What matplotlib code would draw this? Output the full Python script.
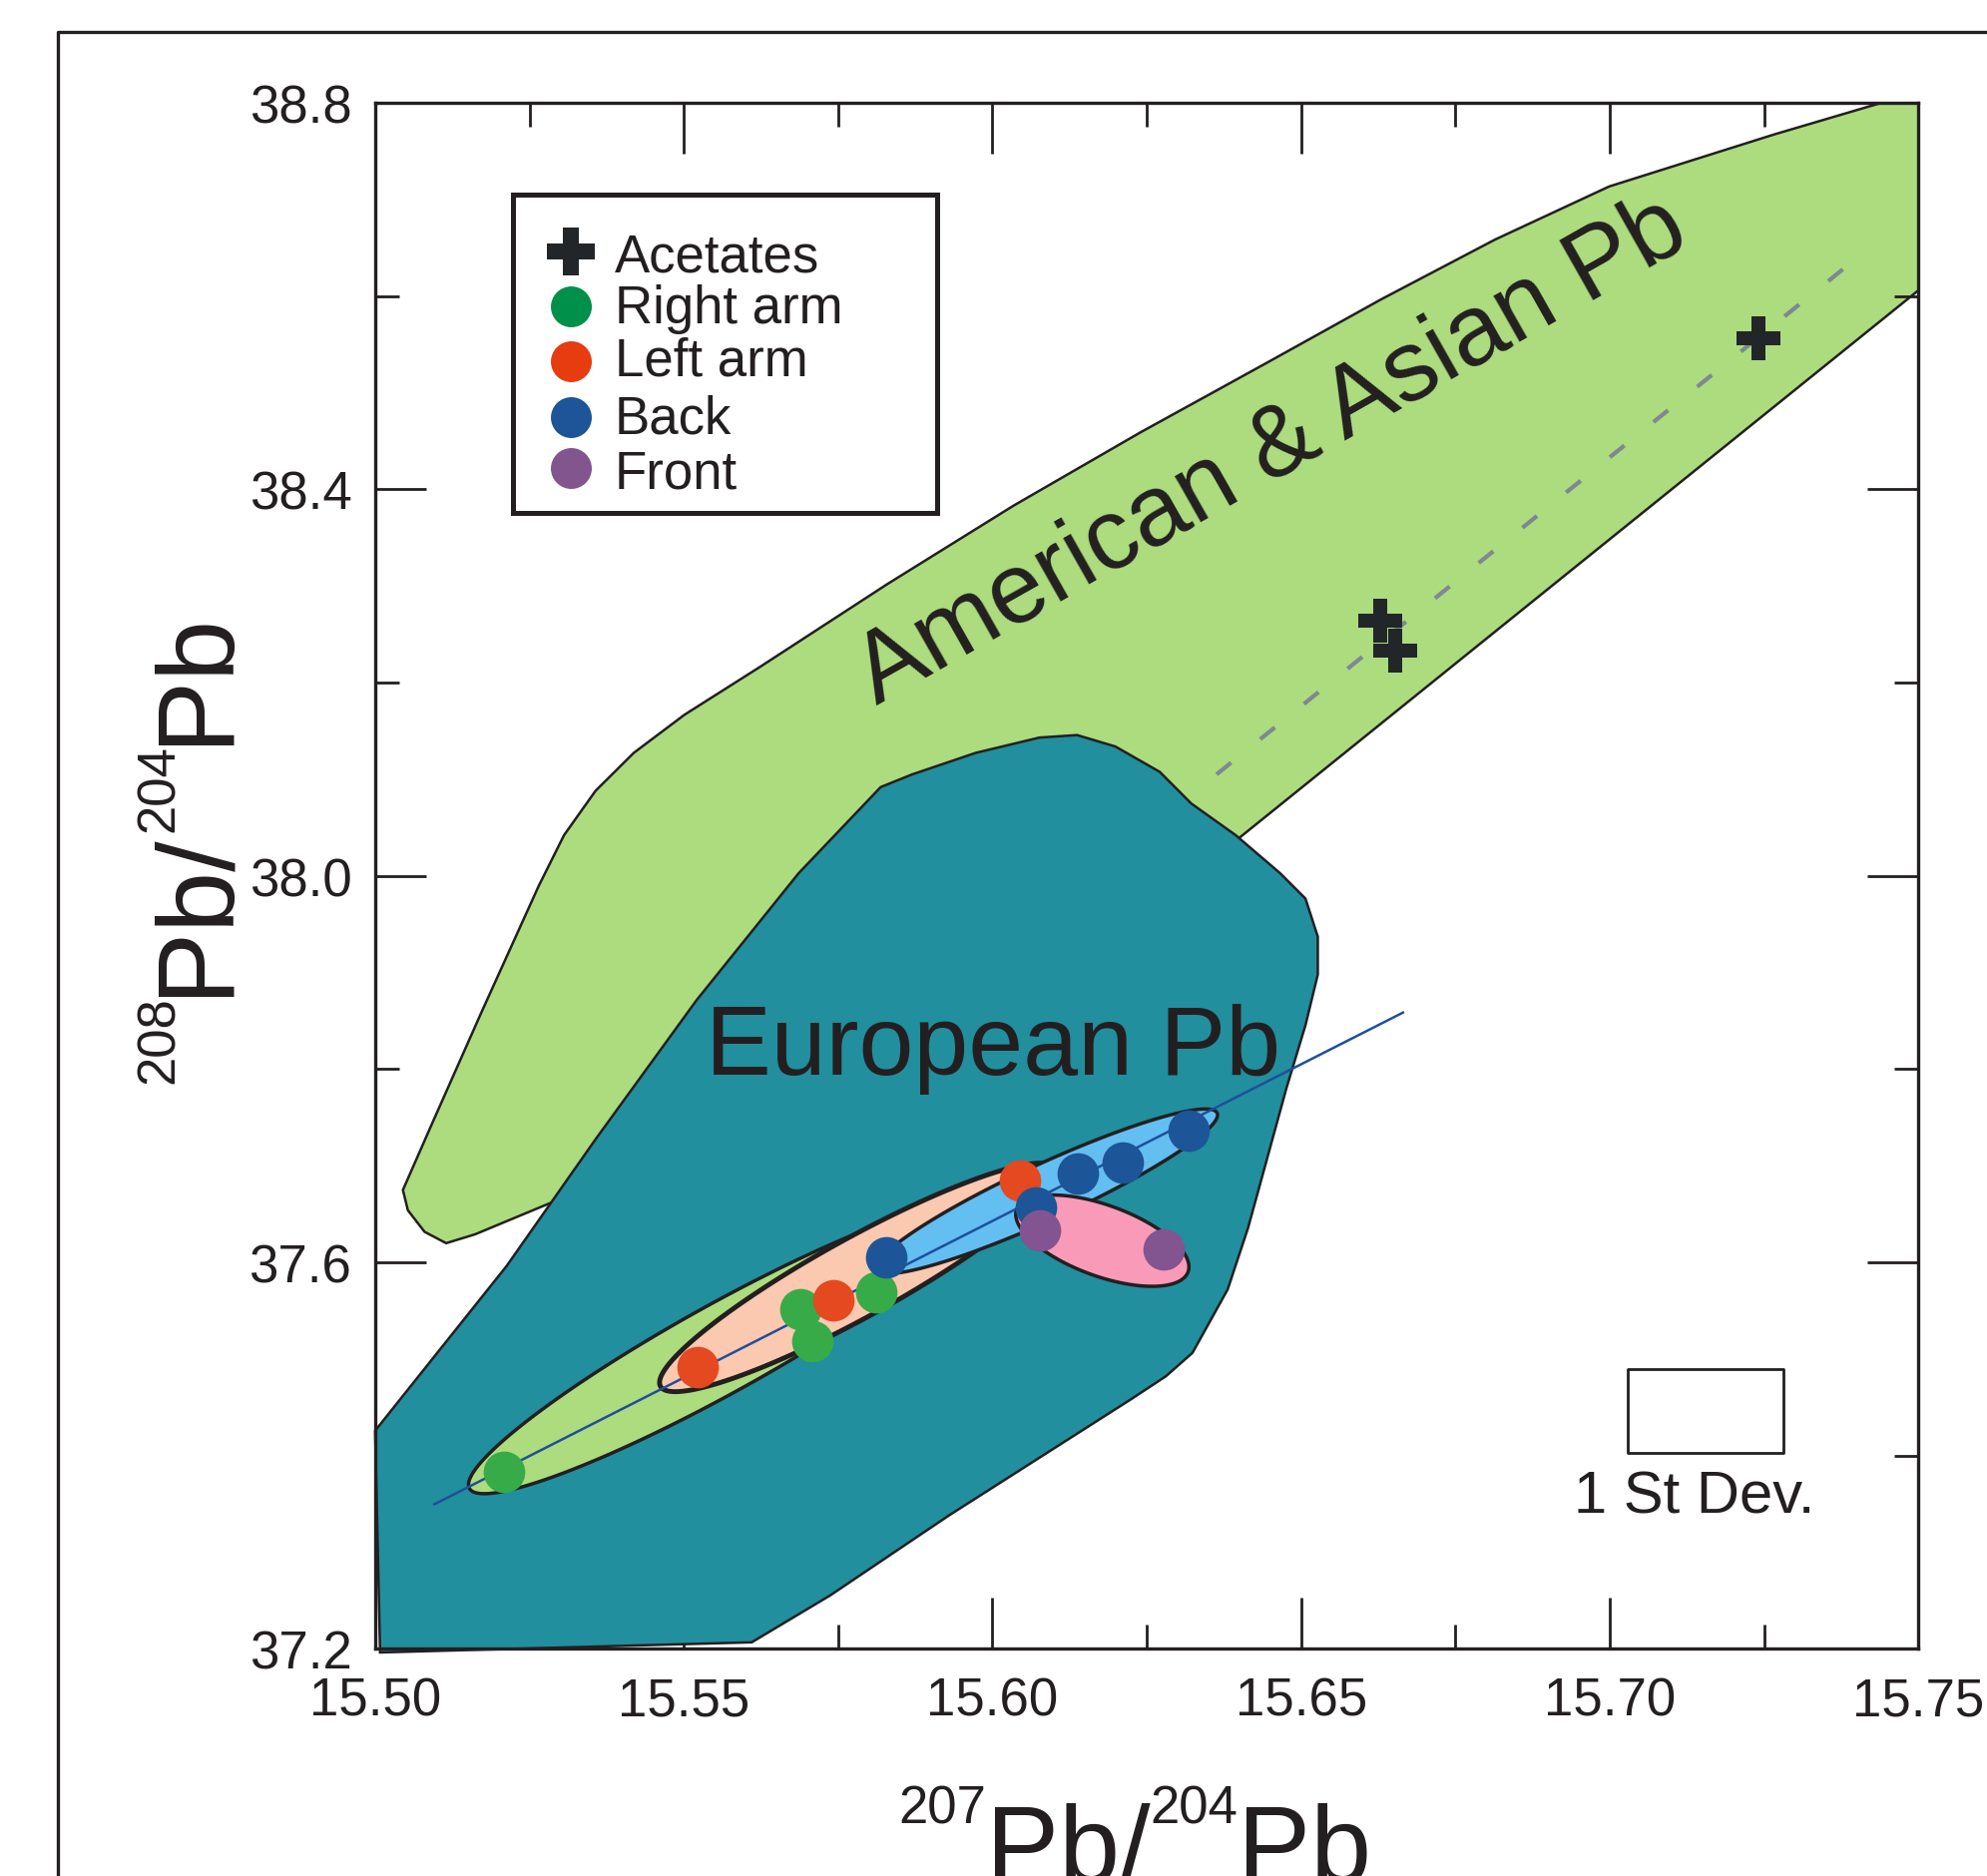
import numpy as np
import matplotlib.pyplot as plt
from matplotlib.lines import Line2D
from matplotlib.patches import Polygon, Rectangle
from matplotlib.ticker import MultipleLocator, FormatStrFormatter

plt.rcParams['font.family'] = ['Liberation Sans', 'DejaVu Sans']

INK = '#231f20'

# measured Pb isotope ratios (x = 207Pb/204Pb, y = 208Pb/204Pb)
acetate_x = [15.6628, 15.6652, 15.7241]
acetate_y = [38.2636, 38.2334, 38.5567]
right_arm_x = [15.5209, 15.5689, 15.5708, 15.5811]
right_arm_y = [37.3835, 37.5511, 37.5184, 37.5690]
left_arm_x = [15.5522, 15.5743, 15.6044]
left_arm_y = [37.4915, 37.5608, 37.6847]
back_x = [15.5828, 15.6071, 15.6139, 15.6211, 15.6318]
back_y = [37.6051, 37.6570, 37.6922, 37.7032, 37.7363]
front_x = [15.6077, 15.6277]
front_y = [37.6330, 37.6131]

# American & Asian lead field
asian_x = [15.7553, 15.7440, 15.7266, 15.6999, 15.6814, 15.6630, 15.6445, 15.6240,
           15.6034, 15.5829, 15.5624, 15.5501, 15.5419, 15.5357, 15.5306, 15.5265,
           15.5172, 15.5090, 15.5045, 15.5053, 15.5080, 15.5115, 15.5162, 15.5285,
           15.5624, 15.6240, 15.6400, 15.7500, 15.7553]
asian_y = [38.8223, 38.8000, 38.7672, 38.7134, 38.6584, 38.5967, 38.5311, 38.4590,
           38.3830, 38.3016, 38.2164, 38.1666, 38.1272, 38.0879, 38.0420, 37.9895,
           37.8584, 37.7403, 37.6748, 37.6538, 37.6315, 37.6197, 37.6289, 37.6616,
           37.8584, 38.0420, 38.0393, 38.6059, 38.6348]

# European lead field
euro_x = [15.5000, 15.5090, 15.5213, 15.5357, 15.5521, 15.5686, 15.5819, 15.5870,
          15.5973, 15.6076, 15.6137, 15.6199, 15.6271, 15.6322, 15.6394, 15.6466,
          15.6507, 15.6527, 15.6527, 15.6507, 15.6476, 15.6445, 15.6414, 15.6381,
          15.6324, 15.6281, 15.6225, 15.5929, 15.5737, 15.5610, 15.5008]
euro_y = [37.4256, 37.4977, 37.5961, 37.7272, 37.8715, 38.0026, 38.0918, 38.1049,
          38.1272, 38.1430, 38.1456, 38.1338, 38.1075, 38.0748, 38.0420, 38.0026,
          37.9764, 37.9370, 37.8977, 37.8452, 37.7797, 37.7075, 37.6354, 37.5718,
          37.5062, 37.4820, 37.4584, 37.3377, 37.2551, 37.2066, 37.1961]

# acetate trend and sample regression line
trend_x = [15.6363, 15.7399]
trend_y = [38.1049, 38.6387]
fit_x = [15.5096, 15.6665]
fit_y = [37.3495, 37.8584]

# 1 sd ellipses per group: centre and two conjugate half-axis vectors
ell_cx = [15.5562, 15.5782, 15.6088, 15.6178]
ell_cy = [37.5108, 37.5843, 37.6734, 37.6223]
ell_ux = [0.04093, 0.03198, 0.02760, 0.013888]
ell_uy = [0.14492, 0.11279, 0.08105, -0.03229]
ell_vx = [0.003480, 0.003075, 0.001887, -0.001966]
ell_vy = [-0.04011, -0.03559, -0.02622, -0.03451]

# size of one standard deviation
sd_x0, sd_y0 = 15.7029, 37.4030
sd_w, sd_h = 0.0253, 0.0861

W, H = 1991, 1881
fig = plt.figure(figsize=(W / 100, H / 100), dpi=100)
ax = fig.add_axes([0.1888, 0.1211, 0.7767, 0.8236])
ax.set_xlim(15.50, 15.75)
ax.set_ylim(37.2, 38.8)

ax.xaxis.set_major_locator(MultipleLocator(0.05))
ax.xaxis.set_minor_locator(MultipleLocator(0.025))
ax.yaxis.set_major_locator(MultipleLocator(0.4))
ax.yaxis.set_minor_locator(MultipleLocator(0.2))
ax.xaxis.set_major_formatter(FormatStrFormatter('%.2f'))
ax.yaxis.set_major_formatter(FormatStrFormatter('%.1f'))
ax.tick_params(which='both', direction='in', top=True, right=True,
               color=INK, width=2, labelcolor=INK, labelsize=38)
ax.tick_params(which='major', length=37)
ax.tick_params(which='minor', length=17)
ax.tick_params(axis='x', pad=20)
ax.tick_params(axis='y', pad=17)
for sp in ax.spines.values():
    sp.set_linewidth(2.4)
    sp.set_color(INK)
    sp.set_zorder(30)

# lead fields
ax.add_patch(Polygon(np.column_stack([asian_x, asian_y]), closed=True,
                     fc='#acdc7e', ec=INK, lw=1.8, zorder=1))
ax.add_patch(Polygon(np.column_stack([euro_x, euro_y]), closed=True,
                     fc='#218f9e', ec=INK, lw=1.8, zorder=2, clip_on=False))
ax.text(15.5813, 38.1770, 'American & Asian Pb', fontsize=72, color=INK,
        rotation=29.5, rotation_mode='anchor', ha='left', va='baseline', zorder=3)
ax.text(15.5535, 37.7954, 'European Pb', fontsize=71, color=INK,
        ha='left', va='baseline', zorder=3)

ax.plot(trend_x, trend_y, color='#7d8991', lw=3, ls=(0, (4.5, 9)), zorder=3)
ax.plot(acetate_x, acetate_y, 'P', color='#222629', ms=32, mew=0, zorder=4)

# group ellipses
t = np.linspace(0, 2 * np.pi, 240)
ell_fc = ['#acdc7e', '#fbc8b0', '#63bef2', '#f99bb8']
ell_lw = [2.5, 3.5, 2.5, 2.5]
for i in range(4):
    ex = ell_cx[i] + ell_ux[i] * np.cos(t) + ell_vx[i] * np.sin(t)
    ey = ell_cy[i] + ell_uy[i] * np.cos(t) + ell_vy[i] * np.sin(t)
    ax.add_patch(Polygon(np.column_stack([ex, ey]), closed=True,
                         fc=ell_fc[i], ec=INK, lw=ell_lw[i], zorder=5 + i))

ax.plot(fit_x, fit_y, color='#1f4f9b', lw=1.8, zorder=10)

groups = [(right_arm_x, right_arm_y, '#37ab47'),
          (left_arm_x, left_arm_y, '#e4491f'),
          (back_x, back_y, '#1c5598'),
          (front_x, front_y, '#825490')]
for k, (gx, gy, c) in enumerate(groups):
    ax.plot(gx, gy, 'o', color=c, ms=30, mew=0, zorder=11 + k)

# scale box
ax.add_patch(Rectangle((sd_x0, sd_y0), sd_w, sd_h, fill=False, ec=INK,
                       lw=2, joinstyle='round', zorder=15))
ax.text(sd_x0 + sd_w / 2 - 0.0018, 37.341, '1 St Dev.', fontsize=43, color=INK,
        ha='center', va='baseline', zorder=15)

# legend
ax.add_patch(Rectangle((0.0891, 0.7348), 0.2750, 0.2059, transform=ax.transAxes,
                       fc='white', ec=INK, lw=3.6, zorder=20))
leg_rows = [('Acetates', 'P', '#222629', 34, 0.9041, 0.8912),
            ('Right arm', 'o', '#00904a', 29.5, 0.8682, 0.8581),
            ('Left arm', 'o', '#e63c10', 29.5, 0.8327, 0.8241),
            ('Back', 'o', '#1d5598', 29.5, 0.7965, 0.7864),
            ('Front', 'o', '#82558f', 29.5, 0.7638, 0.7509)]
for label, mk, c, ms, my, ty in leg_rows:
    ax.plot([0.1268], [my], mk, color=c, ms=ms, mew=0,
            transform=ax.transAxes, zorder=21, clip_on=False)
    ax.text(0.1550, ty, label, fontsize=38, color=INK, transform=ax.transAxes,
            ha='left', va='baseline', zorder=21)

# isotope ratio axis titles built from pieces so superscripts stay small
renderer = fig.canvas.get_renderer()


def ratio_label(pieces, start, base, vertical):
    pos = start
    for s, size, lift in pieces:
        if vertical:
            txt = fig.text((base - lift) / W, pos / H, s, fontsize=size, color=INK,
                           rotation=90, rotation_mode='anchor',
                           ha='left', va='baseline')
            pos += txt.get_window_extent(renderer).height
        else:
            txt = fig.text(pos / W, (base + lift) / H, s, fontsize=size, color=INK,
                           ha='left', va='baseline')
            pos += txt.get_window_extent(renderer).width


ratio_label([('207', 38, 58), ('Pb/', 79, 0), ('204', 38, 58), ('Pb', 79, 0)],
            start=900, base=-4.5, vertical=False)
ratio_label([('208', 38, 52), ('Pb/', 79, 0), ('204', 38, 52), ('Pb', 79, 0)],
            start=795, base=226, vertical=True)

# outer panel frame
fig.add_artist(Line2D([58 / W, 58 / W, 1.01], [-0.01, 1 - 33 / H, 1 - 33 / H],
                      transform=fig.transFigure, color=INK, lw=2.4))

fig.savefig('out.png', dpi=100)
